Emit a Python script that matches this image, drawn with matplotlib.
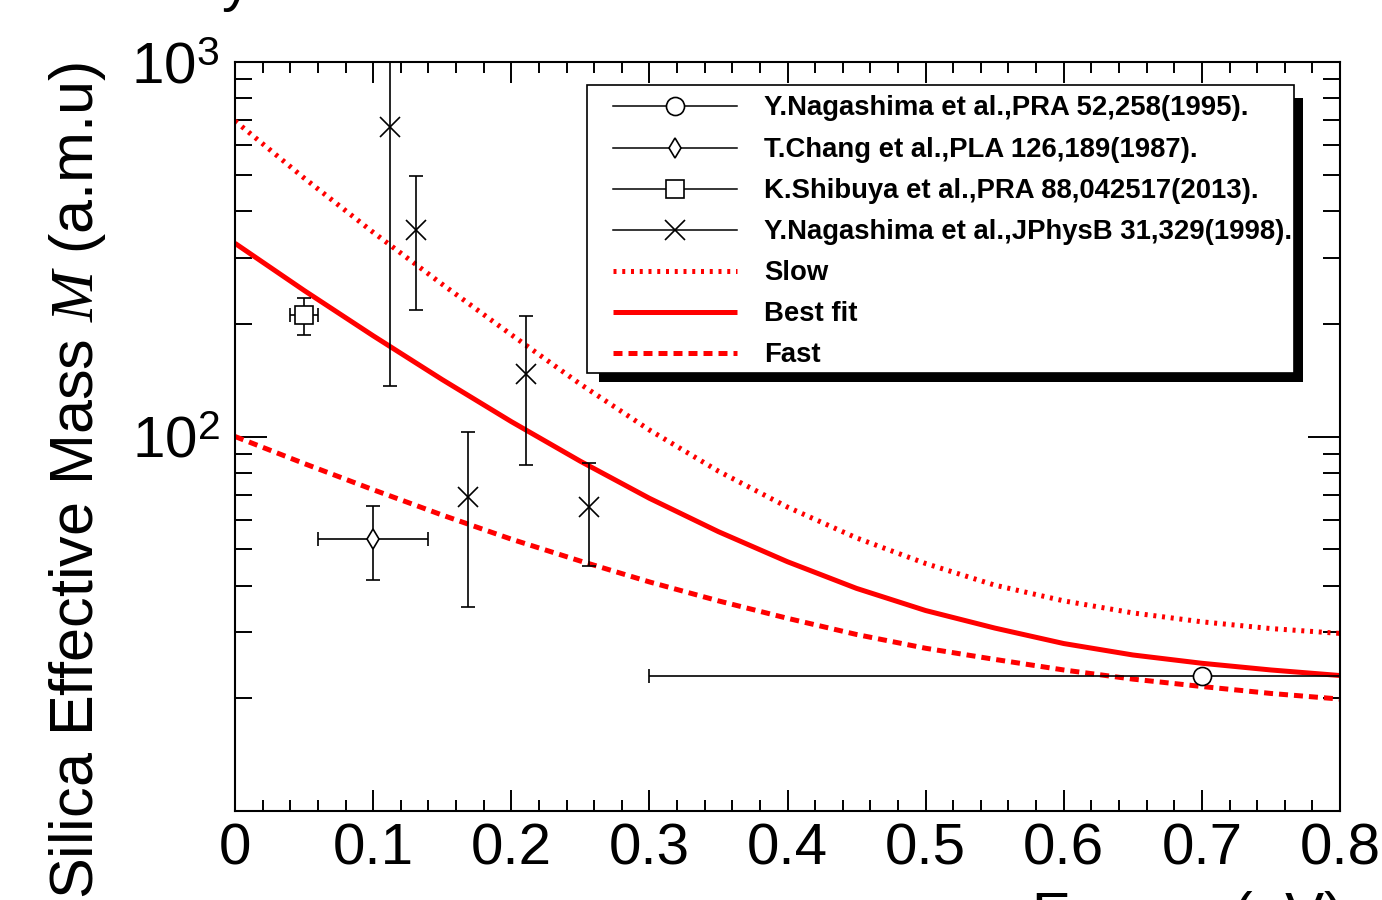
import matplotlib
matplotlib.use("Agg")
import numpy as np
import matplotlib.pyplot as plt
from matplotlib.lines import Line2D
from matplotlib.patches import Rectangle
from matplotlib.ticker import FixedLocator, FixedFormatter, MultipleLocator, LogLocator, NullFormatter
from matplotlib.transforms import Affine2D

plt.rcParams["font.family"] = ["Liberation Sans", "DejaVu Sans"]
plt.rcParams["mathtext.fontset"] = "custom"
plt.rcParams["mathtext.rm"] = "Liberation Sans"
plt.rcParams["mathtext.it"] = "Liberation Serif:italic"
plt.rcParams["mathtext.bf"] = "Liberation Sans:bold"

# ---- model curves: silica effective mass vs Ps energy ----
energy_grid = [0.00, 0.05, 0.10, 0.15, 0.20, 0.25, 0.30, 0.35, 0.40,
               0.45, 0.50, 0.55, 0.60, 0.65, 0.70, 0.75, 0.80]
mass_slow = [696, 490, 351, 255, 187, 138, 104.1, 80.8, 64.8,
             53.6, 45.8, 40.1, 36.4, 33.8, 32.0, 30.7, 29.8]
mass_best = [328, 245.5, 185.8, 141.9, 109.6, 85.9, 68.4, 55.7, 46.3,
             39.3, 34.3, 30.8, 28.0, 26.1, 24.8, 23.8, 23.0]
mass_fast = [100, 84.7, 72.1, 61.7, 53.2, 46.5, 40.9, 36.4, 32.7,
             29.6, 27.2, 25.4, 23.8, 22.5, 21.5, 20.6, 19.9]

# ---- measurements ----
nag95_e = [0.70]
nag95_e_err = [0.40]
nag95_m = [22.9]

chang_e = [0.10]
chang_e_err = [0.04]
chang_m = [53.3]
chang_m_err = [12.0]

shib_e = [0.05]
shib_e_err = [0.01]
shib_m = [211]
shib_m_err = [24]

nag98_e = [0.112, 0.131, 0.169, 0.211, 0.256]
nag98_m = [671, 357, 69, 147, 65]
nag98_m_err = [535, 140, 34, 63, 20]

legend_labels = [
    "Y.Nagashima et al.,PRA 52,258(1995).",
    "T.Chang et al.,PLA 126,189(1987).",
    "K.Shibuya et al.,PRA 88,042517(2013).",
    "Y.Nagashima et al.,JPhysB 31,329(1998).",
    "Slow",
    "Best fit",
    "Fast",
]

x_ticks = [0.0, 0.1, 0.2, 0.3, 0.4, 0.5, 0.6, 0.7, 0.8]
x_tick_labels = ["0", "0.1", "0.2", "0.3", "0.4", "0.5", "0.6", "0.7", "0.8"]
y_ticks = [100, 1000]
y_tick_labels = [r"$10^{2}$", r"$10^{3}$"]

W, H = 1382, 900
fig = plt.figure(figsize=(W / 100, H / 100), dpi=100)
ax = fig.add_axes([235 / W, 89 / H, 1105 / W, 749 / H])

# pixel transform measured from the top-left corner of the figure
px = Affine2D().scale(1 / W, -1 / H).translate(0, 1) + fig.transFigure

RED = "#ff0000"
LW = 3.6
slow_style = (0, (0.6, 1.15))
fast_style = (0, (1.8, 1.2))

ax.plot(energy_grid, mass_slow, color=RED, lw=LW, linestyle=slow_style,
        dash_capstyle="butt", zorder=2)
ax.plot(energy_grid, mass_best, color=RED, lw=LW, solid_capstyle="butt",
        solid_joinstyle="round", zorder=2)
ax.plot(energy_grid, mass_fast, color=RED, lw=LW, linestyle=fast_style,
        dash_capstyle="butt", zorder=2)

eb = dict(ecolor="black", elinewidth=1.2, capsize=5, capthick=1.2,
          mec="black", mew=1.2, zorder=5, linestyle="none")
ax.errorbar(nag95_e, nag95_m, xerr=nag95_e_err, marker="o", ms=13,
            mfc="white", **eb)
ax.errorbar(chang_e, chang_m, xerr=chang_e_err, yerr=chang_m_err, marker="d",
            ms=10, mfc="white", **eb)
ax.errorbar(shib_e, shib_m, xerr=shib_e_err, yerr=shib_m_err, marker="s",
            ms=13.5, mfc="white", **eb)
ax.errorbar(nag98_e, nag98_m, yerr=nag98_m_err, marker="x", ms=13.7,
            mfc="none", **eb)

ax.set_xlim(0, 0.8)
ax.set_yscale("log")
ax.set_ylim(10, 1000)

ax.xaxis.set_major_locator(FixedLocator(x_ticks))
ax.xaxis.set_major_formatter(FixedFormatter(x_tick_labels))
ax.xaxis.set_minor_locator(MultipleLocator(0.02))
ax.yaxis.set_major_locator(FixedLocator(y_ticks))
ax.yaxis.set_major_formatter(FixedFormatter(y_tick_labels))
ax.yaxis.set_minor_locator(LogLocator(base=10, subs=np.arange(2, 10), numticks=20))
ax.yaxis.set_minor_formatter(NullFormatter())

for s in ax.spines.values():
    s.set_linewidth(1.5)
ax.tick_params(which="both", direction="in", top=True, right=True,
               width=1.4, labelsize=42)
ax.tick_params(axis="x", which="major", length=15, pad=8.5)
ax.tick_params(axis="x", which="minor", length=8)
ax.tick_params(axis="y", which="major", length=23, pad=11)
ax.tick_params(axis="y", which="minor", length=12)

# axis titles, placed at the axis ends
fig.text(78 / W, 1 - 62 / H, r"Silica Effective Mass $M$ (a.m.u)",
         rotation=90, ha="center", va="top", fontsize=44)
fig.text(1343 / W, -33 / H, "Energy (eV)", ha="right", va="baseline", fontsize=42)
fig.text(222 / W, 1.0, "y", ha="left", va="baseline", fontsize=42)

# legend with drop shadow
fig.add_artist(Rectangle((599, 382), 1303 - 599, 98 - 382, transform=px,
                         facecolor="black", edgecolor="none", zorder=10))
fig.add_artist(Rectangle((587, 373), 1294 - 587, 85 - 373, transform=px,
                         facecolor="white", edgecolor="black", lw=1.2, zorder=11))

row_y = [106, 148, 189, 230, 271, 312, 353]
handle_x0, handle_x1, handle_xm, text_x = 613, 737, 675, 764
data_markers = [
    dict(marker="o", ms=13, mfc="white"),
    dict(marker="d", ms=10, mfc="white"),
    dict(marker="s", ms=13.5, mfc="white"),
    dict(marker="x", ms=13.7, mfc="none"),
]
for i, mk in enumerate(data_markers):
    y = row_y[i]
    fig.add_artist(Line2D([handle_x0, handle_x1], [y, y], transform=px,
                          color="black", lw=1.1, zorder=12))
    fig.add_artist(Line2D([handle_xm], [y], transform=px, color="black",
                          linestyle="none", mec="black", mew=1.2, zorder=13, **mk))
curve_styles = [slow_style, "-", fast_style]
for j, ls in enumerate(curve_styles):
    y = row_y[4 + j]
    fig.add_artist(Line2D([handle_x0, handle_x1], [y, y], transform=px, color=RED,
                          lw=LW, linestyle=ls, dash_capstyle="butt",
                          solid_capstyle="butt", zorder=12))
for y, lab in zip(row_y, legend_labels):
    fig.text(text_x, y + 2, lab, transform=px, fontsize=19.8, fontweight="bold",
             ha="left", va="center", zorder=13)

fig.savefig("out.png", dpi=100)
